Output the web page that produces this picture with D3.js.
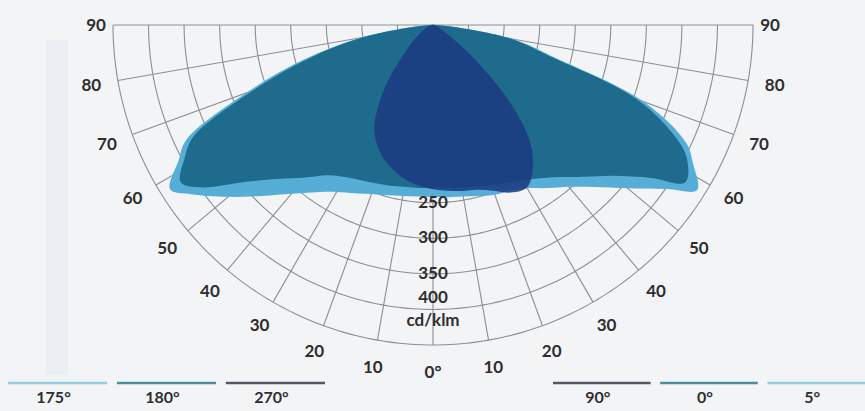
<!DOCTYPE html>
<html>
<head>
<meta charset="utf-8">
<script src="https://cdn.jsdelivr.net/npm/d3@7"></script>
<style>
  body { margin: 0; background: #f3f4f6; }
  svg { display: block; }
  text { font-family: Lato, "Open Sans", sans-serif; fill: #2e2e2e; font-weight: 700; }
</style>
</head>
<body>
<svg id="chart" width="865" height="411"></svg>
<script>
// gamma angles in degrees, 0 = straight down, negative = left half
var angles = [-90,-85,-80,-75,-70,-65,-62,-58,-55,-50,-45,-40,-35,-30,-25,-20,-15,-10,-5,0,
              5,10,15,20,25,30,35,40,45,50,55,58,62,65,70,75,80,85,90];

// luminous intensity, cd/klm
var planeC5 = [0,25,104,188,280,383,405,436,415,376,340,310,287,271,261,253,248,244,242,242,
               243,245,249,254,257,265,280,297,322,357,402,438,414,393,315,178,115,28,0];
var planeC0 = [0,21,98,180,270,372,395,418,398,343,306,280,258,247,241,237,234,231,230,229,
               230,232,235,240,245,252,263,279,302,330,375,418,405,378,305,170,110,25,0];
var planeC90 = [0,2,4,6,8,12,15,20,26,38,58,92,130,165,186,201,212,221,227,231,
                234,237,240,248,260,264,245,211,152,84,38,22,14,10,7,5,3,2,0];

var angleTicks = [0,10,20,30,40,50,60,70,80,90];
var gridAngles = [-90,-80,-70,-60,-50,-40,-30,-20,-10,0,10,20,30,40,50,60,70,80,90];
var gridCircles = [50,100,150,200,250,300,350,400,450];
var intensityTicks = [250,300,350,400];

var legendLeft = ["175°","180°","270°"];
var legendRight = ["90°","0°","5°"];

var fillColors = { c5: "#56aed6", c0: "#1f6b8d", c90: "#1c3b82" };
var lineColors = { c5: "#93cfe0", c0: "#4f8d9e", c90: "#535864" };
var legendPlanes = { "175°": "c5", "180°": "c0", "270°": "c90", "90°": "c90", "0°": "c0", "5°": "c5" };

var cx = 433, cy = 25;
var svg = d3.select("#chart");

// faint band of the photographed page behind the chart
svg.append("rect").attr("x", 46).attr("y", 40).attr("width", 22).attr("height", 335)
   .attr("fill", "#e6ebf2").attr("opacity", 0.6);

var r = d3.scaleLinear().domain([0, 450]).range([0, 320]);
var ang = d3.scaleLinear().domain([-90, 90]).range([Math.PI * 1.5, Math.PI * 0.5]);

var g = svg.append("g").attr("transform", "translate(" + cx + "," + cy + ")");

// grid
var arcLine = d3.lineRadial()
    .angle(function(d) { return ang(d); })
    .curve(d3.curveLinear);

g.selectAll(".ring")
  .data(gridCircles)
  .enter().append("path")
    .attr("class", "ring")
    .attr("d", function(v) { return arcLine.radius(r(v))(d3.range(-90, 90.5, 1)); })
    .attr("fill", "none")
    .attr("stroke", "#8d8e94")
    .attr("stroke-width", 1.1);

g.selectAll(".spoke")
  .data(gridAngles)
  .enter().append("line")
    .attr("class", "spoke")
    .attr("x1", 0).attr("y1", 0)
    .attr("x2", function(d) { return d3.pointRadial(ang(d), r(450))[0]; })
    .attr("y2", function(d) { return d3.pointRadial(ang(d), r(450))[1]; })
    .attr("stroke", "#8d8e94")
    .attr("stroke-width", 1.1);

// intensity curves
var curve = d3.lineRadial()
    .angle(function(d) { return ang(d[0]); })
    .radius(function(d) { return r(d[1]); })
    .curve(d3.curveCatmullRom.alpha(0.5));

var planes = [
  { key: "c5", values: planeC5, opacity: 1 },
  { key: "c0", values: planeC0, opacity: 1 },
  { key: "c90", values: planeC90, opacity: 0.88 }
];

g.selectAll(".plane")
  .data(planes)
  .enter().append("path")
    .attr("class", "plane")
    .attr("d", function(p) { return curve(d3.zip(angles, p.values)) + "Z"; })
    .attr("fill", function(p) { return fillColors[p.key]; })
    .attr("fill-opacity", function(p) { return p.opacity; });

// angle labels
var labelR = r(450) + 27;
var angleLabels = [];
angleTicks.forEach(function(t) {
  angleLabels.push(t);
  if (t !== 0) angleLabels.push(-t);
});

g.selectAll(".angleLabel")
  .data(angleLabels)
  .enter().append("text")
    .attr("class", "angleLabel")
    .attr("x", function(d) { return d3.pointRadial(ang(d), Math.abs(d) === 90 ? labelR - 10 : labelR)[0]; })
    .attr("y", function(d) { return d3.pointRadial(ang(d), labelR)[1]; })
    .attr("dy", "0.35em")
    .attr("text-anchor", "middle")
    .attr("font-size", 17)
    .text(function(d) { return d === 0 ? "0°" : Math.abs(d); });

// intensity labels down the 0° line
g.selectAll(".intLabel")
  .data(intensityTicks)
  .enter().append("text")
    .attr("class", "intLabel")
    .attr("x", 0)
    .attr("y", function(d) { return r(d) - (d === 400 ? 12 : 1); })
    .attr("dy", "0.35em")
    .attr("text-anchor", "middle")
    .attr("font-size", 17)
    .text(function(d) { return d; });

g.append("text")
  .attr("x", 0)
  .attr("y", r(400) + 11)
  .attr("dy", "0.35em")
  .attr("text-anchor", "middle")
  .attr("font-size", 17)
  .text("cd/klm");

// legend
function drawLegend(items, x0, x1) {
  var band = d3.scaleBand().domain(items).range([x0, x1]).paddingInner(0.09);
  var lg = svg.append("g");
  lg.selectAll("line")
    .data(items)
    .enter().append("line")
      .attr("x1", function(d) { return band(d); })
      .attr("x2", function(d) { return band(d) + band.bandwidth(); })
      .attr("y1", 383).attr("y2", 383)
      .attr("stroke", function(d) { return lineColors[legendPlanes[d]]; })
      .attr("stroke-width", 2.5);
  lg.selectAll("text")
    .data(items)
    .enter().append("text")
      .attr("x", function(d) { return band(d) + band.bandwidth() / 2 - 4; })
      .attr("y", 397)
      .attr("dy", "0.35em")
      .attr("text-anchor", "middle")
      .attr("font-size", 16)
      .text(function(d) { return d; });
}

drawLegend(legendLeft, 8, 325);
drawLegend(legendRight, 553, 865);
</script>
</body>
</html>
